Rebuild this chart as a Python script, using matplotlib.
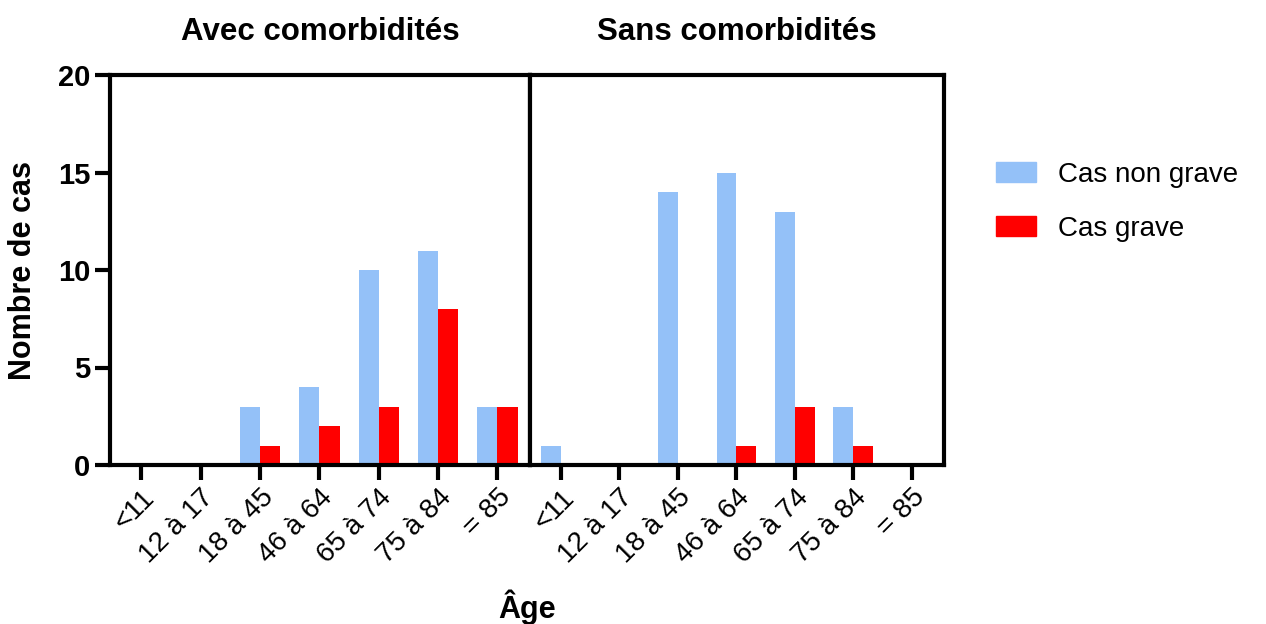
import numpy as np
import matplotlib
matplotlib.use("Agg")
import matplotlib.pyplot as plt
from matplotlib.patches import Patch

plt.rcParams['font.family'] = ['Liberation Sans', 'DejaVu Sans']

ages = ["<11", "12 à 17", "18 à 45", "46 à 64", "65 à 74", "75 à 84", "= 85"]
panels = ["Avec comorbidités", "Sans comorbidités"]
non_grave = [[0, 0, 3, 4, 10, 11, 3],
             [1, 0, 14, 15, 13, 3, 0]]
grave = [[0, 0, 1, 2, 3, 8, 3],
         [0, 0, 0, 1, 3, 1, 0]]

blue = "#94c1f8"
red = "#ff0000"

W, H = 1266, 624
fig = plt.figure(figsize=(W / 100, H / 100), dpi=100)

x0, xm, x1 = 110, 530, 944
ytop, ybot = 75, 465
axes = [fig.add_axes([x0 / W, 1 - ybot / H, (xm - x0) / W, (ybot - ytop) / H]),
        fig.add_axes([xm / W, 1 - ybot / H, (x1 - xm) / W, (ybot - ytop) / H])]

x = np.arange(len(ages))
bw = 0.34
for i, ax in enumerate(axes):
    ax.bar(x - bw / 2, non_grave[i], bw, color=blue, zorder=2)
    ax.bar(x + bw / 2, grave[i], bw, color=red, zorder=2)
    ax.set_xlim(-0.53, 6.55)
    ax.set_ylim(0, 20)
    ax.set_title(panels[i], fontsize=22.5, fontweight='bold', pad=25)
    for s in ax.spines.values():
        s.set_linewidth(3)
    ax.set_xticks(x)
    ax.set_xticklabels(ages, rotation=45, ha='right', va='top',
                       rotation_mode='anchor', fontsize=20)
    ax.tick_params(axis='x', length=11, width=3, pad=3)
    ax.set_yticks([0, 5, 10, 15, 20])
    if i == 0:
        ax.tick_params(axis='y', length=11, width=3, labelsize=21, pad=3)
        for t in ax.get_yticklabels():
            t.set_fontweight('bold')
        ax.set_ylabel("Nombre de cas", fontsize=22, fontweight='bold')
        ax.yaxis.set_label_coords(-0.172, 0.5)
    else:
        ax.tick_params(axis='y', left=False, labelleft=False)

fig.text((x0 + x1) / 2 / W, 1 - 607 / H, "Âge", ha='center', va='center',
         fontsize=22, fontweight='bold')

handles = [Patch(color=blue), Patch(color=red)]
fig.legend(handles, ["Cas non grave", "Cas grave"], loc='upper left',
           bbox_to_anchor=(971 / W, 1 - 137 / H), frameon=False, fontsize=20,
           handlelength=1.45, handleheight=0.75, handletextpad=0.8, labelspacing=1.0)

fig.savefig("out.png", dpi=100)
